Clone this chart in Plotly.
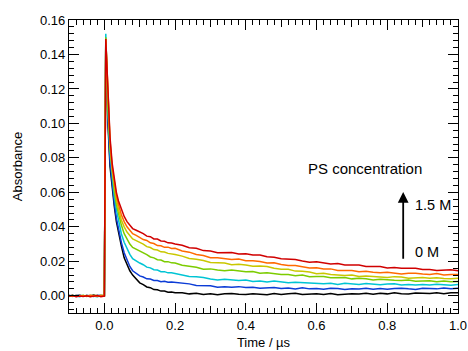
import plotly.graph_objects as go

# Time axis (µs)
time_us = [-0.1, -0.09, -0.08, -0.07, -0.06, -0.05, -0.04, -0.03, -0.02, -0.01, -0.002, 0.0,
           0.004, 0.01, 0.016, 0.022, 0.028, 0.034, 0.04, 0.048, 0.056, 0.064, 0.072, 0.08, 0.09,
           0.1, 0.11, 0.12, 0.13, 0.14, 0.15, 0.16, 0.17, 0.18, 0.19, 0.2,
           0.22, 0.24, 0.26, 0.28, 0.30, 0.32, 0.34, 0.36, 0.38, 0.40, 0.42, 0.44, 0.46, 0.48,
           0.50, 0.52, 0.54, 0.56, 0.58, 0.60, 0.62, 0.64, 0.66, 0.68, 0.70, 0.72, 0.74, 0.76,
           0.78, 0.80, 0.82, 0.84, 0.86, 0.88, 0.90, 0.92, 0.94, 0.96, 0.98, 1.00]

abs_0M = [-0.0002, 0.0003, -0.0004, 0.0001, -0.0003, 0.0002, -0.0001, 0.0004, -0.0003, 0.0000, -0.0002, 0.0000,
          0.147, 0.100, 0.075, 0.062, 0.052, 0.043, 0.036, 0.029, 0.022, 0.018, 0.0145, 0.012, 0.0095,
          0.0075, 0.0065, 0.0051, 0.0047, 0.0036, 0.0035, 0.0027, 0.0027, 0.0020, 0.0022, 0.0018,
          0.0018, 0.0011, 0.0015, 0.0007, 0.0011, 0.0006, 0.0012, 0.0013, 0.0009, 0.0007, 0.0012, 0.0011,
          0.0006, 0.0013, 0.0008, 0.0011, 0.0014, 0.0007, 0.0009, 0.0012, 0.0008, 0.0013, 0.0006, 0.0011,
          0.0012, 0.0010, 0.0014, 0.0009, 0.0015, 0.0011, 0.0017, 0.0012, 0.0010, 0.0016, 0.0015, 0.0013,
          0.0018, 0.0012, 0.0018, 0.0017]

abs_c2 = [0.0003, -0.0002, 0.0001, 0.0004, -0.0003, 0.0002, 0.0000, -0.0004, 0.0003, 0.0001, -0.0001, 0.0000,
          0.148, 0.103, 0.078, 0.064, 0.054, 0.045, 0.038, 0.031, 0.025, 0.021, 0.017, 0.0145, 0.0128,
          0.0115, 0.0109, 0.0098, 0.0097, 0.0089, 0.0089, 0.0082, 0.0084, 0.0078, 0.0080, 0.0078,
          0.0070, 0.0069, 0.0060, 0.0059, 0.0058, 0.0050, 0.0053, 0.0049, 0.0053, 0.0048, 0.0050, 0.0043,
          0.0047, 0.0048, 0.0042, 0.0045, 0.0039, 0.0046, 0.0040, 0.0042, 0.0038, 0.0043, 0.0042, 0.0037,
          0.0041, 0.0039, 0.0044, 0.0038, 0.0042, 0.0038, 0.0042, 0.0044, 0.0040, 0.0037, 0.0043, 0.0042,
          0.0040, 0.0045, 0.0041, 0.0044]

abs_c3 = [-0.0004, 0.0001, -0.0002, -0.0005, 0.0002, -0.0003, 0.0001, -0.0002, -0.0006, 0.0000, 0.0002, 0.0000,
          0.152, 0.108, 0.083, 0.068, 0.058, 0.050, 0.043, 0.036, 0.031, 0.027, 0.024, 0.0215, 0.020,
          0.0190, 0.0180, 0.0166, 0.0162, 0.0151, 0.0149, 0.0140, 0.0140, 0.0133, 0.0134, 0.0130,
          0.0124, 0.0112, 0.0110, 0.0106, 0.0097, 0.0092, 0.0096, 0.0093, 0.0089, 0.0091, 0.0083, 0.0086,
          0.0080, 0.0085, 0.0078, 0.0075, 0.0078, 0.0076, 0.0076, 0.0070, 0.0070, 0.0072, 0.0066, 0.0072,
          0.0070, 0.0066, 0.0071, 0.0066, 0.0064, 0.0068, 0.0070, 0.0063, 0.0066, 0.0062, 0.0066, 0.0063,
          0.0067, 0.0064, 0.0061, 0.0065]

abs_c4 = [0.0001, -0.0003, 0.0002, -0.0001, 0.0003, -0.0004, 0.0002, 0.0000, -0.0002, 0.0003, -0.0001, 0.0000,
          0.150, 0.110, 0.086, 0.071, 0.061, 0.053, 0.047, 0.041, 0.036, 0.0325, 0.030, 0.028, 0.027,
          0.0260, 0.0246, 0.0239, 0.0225, 0.0220, 0.0209, 0.0207, 0.0198, 0.0198, 0.0191, 0.0190,
          0.0177, 0.0173, 0.0165, 0.0154, 0.0156, 0.0149, 0.0145, 0.0150, 0.0146, 0.0140, 0.0141, 0.0131,
          0.0134, 0.0129, 0.0124, 0.0124, 0.0116, 0.0120, 0.0111, 0.0112, 0.0112, 0.0105, 0.0104, 0.0106,
          0.0098, 0.0101, 0.0098, 0.0091, 0.0096, 0.0095, 0.0090, 0.0088, 0.0092, 0.0084, 0.0087, 0.0087,
          0.0082, 0.0086, 0.0082, 0.0083]

abs_c5 = [-0.0001, 0.0002, -0.0003, 0.0003, -0.0002, 0.0001, -0.0004, 0.0002, 0.0001, -0.0003, 0.0002, 0.0000,
          0.149, 0.112, 0.088, 0.073, 0.063, 0.056, 0.050, 0.044, 0.040, 0.037, 0.035, 0.033, 0.032,
          0.0310, 0.0300, 0.0285, 0.0280, 0.0268, 0.0265, 0.0255, 0.0254, 0.0246, 0.0245, 0.0240,
          0.0230, 0.0216, 0.0212, 0.0205, 0.0193, 0.0190, 0.0190, 0.0180, 0.0183, 0.0179, 0.0171, 0.0172,
          0.0170, 0.0160, 0.0154, 0.0154, 0.0143, 0.0142, 0.0138, 0.0128, 0.0131, 0.0123, 0.0122, 0.0117,
          0.0121, 0.0112, 0.0115, 0.0112, 0.0109, 0.0106, 0.0111, 0.0109, 0.0102, 0.0106, 0.0106, 0.0101,
          0.0105, 0.0100, 0.0098, 0.0102]

abs_c6 = [0.0002, -0.0004, 0.0001, -0.0002, 0.0000, -0.0003, 0.0003, -0.0001, -0.0004, 0.0002, -0.0002, 0.0000,
          0.149, 0.114, 0.090, 0.075, 0.065, 0.058, 0.053, 0.047, 0.043, 0.040, 0.038, 0.036, 0.035,
          0.0340, 0.0326, 0.0321, 0.0307, 0.0303, 0.0291, 0.0290, 0.0281, 0.0282, 0.0274, 0.0275,
          0.0260, 0.0253, 0.0239, 0.0234, 0.0221, 0.0221, 0.0218, 0.0211, 0.0213, 0.0203, 0.0203, 0.0199,
          0.0190, 0.0192, 0.0182, 0.0176, 0.0176, 0.0169, 0.0161, 0.0162, 0.0155, 0.0156, 0.0147, 0.0147,
          0.0147, 0.0139, 0.0142, 0.0137, 0.0134, 0.0137, 0.0133, 0.0127, 0.0131, 0.0131, 0.0126, 0.0124,
          0.0129, 0.0121, 0.0124, 0.0124]

abs_15M = [-0.0003, 0.0001, -0.0005, -0.0001, -0.0004, 0.0000, -0.0006, -0.0002, 0.0001, -0.0005, -0.0003, -0.0002,
           0.149, 0.116, 0.092, 0.077, 0.067, 0.060, 0.055, 0.050, 0.046, 0.043, 0.041, 0.039, 0.038,
           0.0370, 0.0361, 0.0346, 0.0343, 0.0330, 0.0329, 0.0318, 0.0316, 0.0307, 0.0306, 0.0300,
           0.0293, 0.0279, 0.0276, 0.0262, 0.0260, 0.0250, 0.0252, 0.0251, 0.0242, 0.0244, 0.0236, 0.0236,
           0.0226, 0.0224, 0.0215, 0.0215, 0.0211, 0.0202, 0.0195, 0.0197, 0.0192, 0.0185, 0.0187, 0.0178,
           0.0179, 0.0179, 0.0170, 0.0169, 0.0170, 0.0161, 0.0164, 0.0159, 0.0159, 0.0159, 0.0152, 0.0153,
           0.0147, 0.0151, 0.0151, 0.0145]

series = [abs_0M, abs_c2, abs_c3, abs_c4, abs_c5, abs_c6, abs_15M]
names = ["0 M", "c2", "c3", "c4", "c5", "c6", "1.5 M"]
colors = ["#000000", "#0c3cd6", "#00c4d4", "#7ccc00", "#c9c700", "#ff6a00", "#d00000"]

fig = go.Figure()
for ys, nm, c in zip(series, names, colors):
    fig.add_trace(go.Scatter(x=time_us, y=ys, mode="lines", name=nm,
                             line=dict(color=c, width=1.5), showlegend=False))

FONT = "Liberation Sans, Arial, Helvetica, sans-serif"

fig.update_layout(
    width=468, height=351,
    margin=dict(l=69, r=10, t=20, b=38, autoexpand=False),
    paper_bgcolor="white", plot_bgcolor="white",
    font=dict(family=FONT, size=13, color="black"),
    xaxis=dict(range=[-0.1, 1.0], tickmode="linear", tick0=0, dtick=0.2, tickformat=".1f",
               ticks="inside", ticklen=10, tickwidth=1.2, tickcolor="black",
               showline=True, linecolor="black", linewidth=1.2, mirror="ticks",
               showgrid=False, zeroline=False, automargin=False,
               minor=dict(tickmode="linear", tick0=0, dtick=0.02, ticks="inside", ticklen=5,
                          tickwidth=1.2, tickcolor="black", showgrid=False),
               title=dict(text="Time / µs", standoff=6, font=dict(size=13))),
    xaxis2=dict(range=[-0.1, 1.0], overlaying="x", anchor="y", side="bottom",
                tickmode="linear", tick0=0.1, dtick=0.2, ticks="inside", ticklen=7,
                tickwidth=1.2, tickcolor="black", showticklabels=False, showline=False,
                mirror="ticks", showgrid=False, zeroline=False, automargin=False),
    yaxis=dict(range=[-0.01, 0.16], tickmode="linear", tick0=0, dtick=0.02, tickformat=".2f",
               ticks="inside", ticklen=10, tickwidth=1.2, tickcolor="black",
               showline=True, linecolor="black", linewidth=1.2, mirror="ticks",
               showgrid=False, zeroline=False, automargin=False,
               minor=dict(tickmode="linear", tick0=0, dtick=0.004, ticks="inside", ticklen=5,
                          tickwidth=1.2, tickcolor="black", showgrid=False),
               title=dict(text="Absorbance", standoff=14, font=dict(size=13))),
)

# invisible trace to activate xaxis2 (medium ticks every 0.2 starting at 0.1)
fig.add_trace(go.Scatter(x=[-0.1, 1.0], y=[None, None], xaxis="x2", yaxis="y",
                         mode="lines", showlegend=False, hoverinfo="skip"))

fig.add_annotation(x=0.570, y=0.0741, xref="x", yref="y", text="PS concentration",
                   showarrow=False, xanchor="left", yanchor="middle",
                   font=dict(family=FONT, size=15, color="black"))
fig.add_annotation(x=0.873, y=0.0526, xref="x", yref="y", text="1.5 M",
                   showarrow=False, xanchor="left", yanchor="middle",
                   font=dict(family=FONT, size=14.5, color="black"))
fig.add_annotation(x=0.873, y=0.0254, xref="x", yref="y", text="0 M",
                   showarrow=False, xanchor="left", yanchor="middle",
                   font=dict(family=FONT, size=14.5, color="black"))
fig.add_annotation(x=0.845, y=0.0602, ax=0.845, ay=0.0206, xref="x", yref="y",
                   axref="x", ayref="y", text="", showarrow=True,
                   arrowhead=2, arrowsize=1.2, arrowwidth=1.8, arrowcolor="black")

fig.write_html("out.html", config={"displayModeBar": False},
               post_script="document.body.style.margin='0';document.body.style.overflow='hidden';")
